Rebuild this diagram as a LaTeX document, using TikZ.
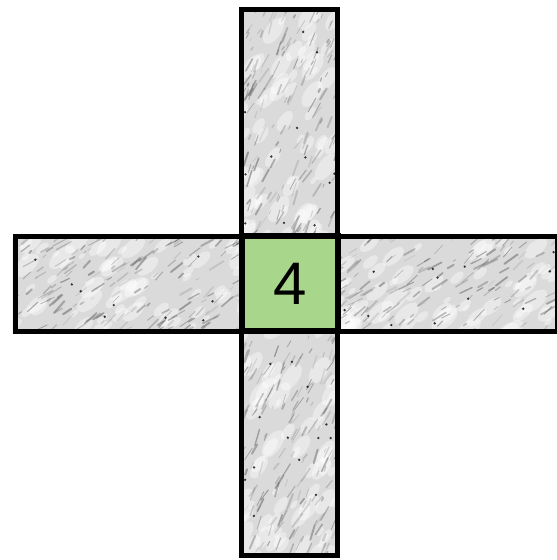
\documentclass[tikz,border=0pt]{standalone}
\usepackage{fontspec}
\setmainfont{Liberation Sans}
\definecolor{marblebase}{RGB}{218,218,218}
\definecolor{centergreen}{RGB}{168,214,138}
\tikzset{
  barline/.style={draw=black, line width=5pt},
  centerbox/.style={draw=black, line width=6pt, fill=centergreen},
  streak/.style={line cap=round},
}
\begin{document}
\begin{tikzpicture}[x=1pt,y=1pt]
\useasboundingbox (0,0) rectangle (557,560);
\pgfmathsetseed{4242}
% texture
\begin{scope}
  \clip (239,2) rectangle (335,548) (12.5,226) rectangle (555,321);
  \fill[marblebase] (0,0) rectangle (557,560);
  % light patches
  \foreach \i in {1,...,160}{
    \pgfmathsetmacro\px{239+rnd*96}
    \pgfmathsetmacro\py{2+rnd*546}
    \pgfmathsetmacro\rr{4+rnd*12}
    \fill[white,opacity=0.4] (\px,\py) ellipse[x radius=\rr, y radius=0.5*\rr, rotate=55];
  }
  \foreach \i in {1,...,160}{
    \pgfmathsetmacro\px{12+rnd*543}
    \pgfmathsetmacro\py{226+rnd*95}
    \pgfmathsetmacro\rr{4+rnd*12}
    \fill[white,opacity=0.4] (\px,\py) ellipse[x radius=\rr, y radius=0.5*\rr, rotate=40];
  }
  % dark streaks
  \foreach \i in {1,...,360}{
    \pgfmathsetmacro\px{239+rnd*96}
    \pgfmathsetmacro\py{2+rnd*546}
    \pgfmathsetmacro\ll{3+rnd*14}
    \pgfmathsetmacro\gg{int(30+rnd*50)}
    \pgfmathsetmacro\ww{0.5+rnd*1.6}
    \pgfmathsetmacro\aa{50+rnd*25}
    \draw[streak,black!\gg,line width=\ww pt,opacity=0.4] (\px,\py) -- ++(\aa:\ll);
  }
  \foreach \i in {1,...,360}{
    \pgfmathsetmacro\px{12+rnd*543}
    \pgfmathsetmacro\py{226+rnd*95}
    \pgfmathsetmacro\ll{3+rnd*14}
    \pgfmathsetmacro\gg{int(30+rnd*50)}
    \pgfmathsetmacro\ww{0.5+rnd*1.6}
    \pgfmathsetmacro\aa{25+rnd*25}
    \draw[streak,black!\gg,line width=\ww pt,opacity=0.4] (\px,\py) -- ++(\aa:\ll);
  }
  % dots
  \foreach \i in {1,...,30}{
    \pgfmathsetmacro\px{239+rnd*96}
    \pgfmathsetmacro\py{2+rnd*546}
    \fill[black!80] (\px,\py) circle[radius=1.3];
  }
  \foreach \i in {1,...,30}{
    \pgfmathsetmacro\px{12+rnd*543}
    \pgfmathsetmacro\py{226+rnd*95}
    \fill[black!80] (\px,\py) circle[radius=1.3];
  }
\end{scope}
% outlines
\node[barline, minimum width=96pt, minimum height=546pt, inner sep=0pt, anchor=south west] (vbar) at (239,2) {};
\node[barline, minimum width=542.5pt, minimum height=95pt, inner sep=0pt, anchor=south west] (hbar) at (12.5,226) {};
\node[centerbox, minimum width=96pt, minimum height=95pt, inner sep=0pt, anchor=south west,
      font=\fontsize{60}{60}\selectfont] (center) at (239,226) {4};
\end{tikzpicture}
\end{document}
